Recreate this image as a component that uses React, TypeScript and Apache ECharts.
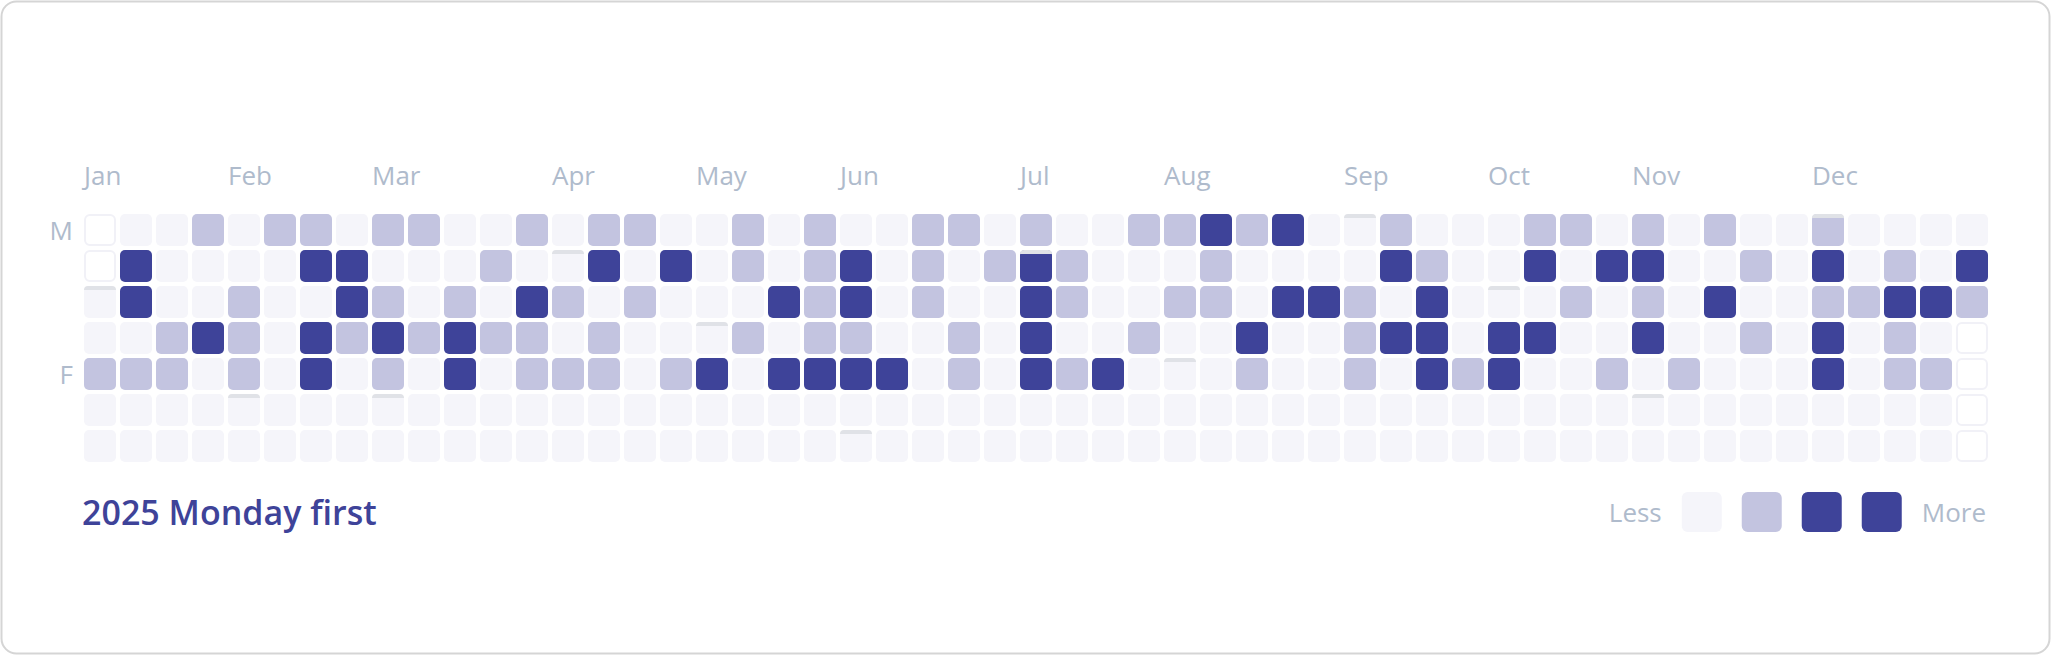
import React, { useEffect, useRef } from "react";
import * as echarts from "echarts";

// ---------- data ----------
const YEAR = 2025;
const monthNames = ["Jan", "Feb", "Mar", "Apr", "May", "Jun", "Jul", "Aug", "Sep", "Oct", "Nov", "Dec"];
const dayLabels = ["M", "", "", "", "F", "", ""];
const titleText = "2025 Monday first";
const legendText = ["Less", "More"];
const legendLevels = [0, 1, 2, 3];

// daily activity level (0..3) for each day of each month of 2025
const jan = [0, 0, 1, 0, 0, 0, 2, 2, 0, 1, 0, 0, 0, 0, 0, 1, 1, 0, 0, 1, 0, 0, 2, 0, 0, 0, 0, 0, 1, 1, 1];
const feb = [0, 0, 1, 0, 0, 0, 0, 0, 0, 1, 2, 0, 2, 2, 0, 0, 0, 2, 2, 1, 0, 0, 0, 1, 0, 1, 2, 1];
const mar = [0, 0, 1, 0, 0, 1, 0, 0, 0, 0, 0, 1, 2, 2, 0, 0, 0, 1, 0, 1, 0, 0, 0, 1, 0, 2, 1, 1, 0, 0, 0];
const apr = [0, 1, 0, 1, 0, 0, 1, 2, 0, 1, 1, 0, 0, 1, 0, 1, 0, 0, 0, 0, 0, 2, 0, 0, 1, 0, 0, 0, 0, 0];
const may = [0, 2, 0, 0, 1, 1, 0, 1, 0, 0, 0, 0, 0, 2, 0, 2, 0, 0, 1, 1, 1, 1, 2, 0, 0, 0, 2, 2, 1, 2, 0];
const jun = [0, 0, 0, 0, 0, 2, 0, 0, 1, 1, 1, 0, 0, 0, 0, 1, 0, 0, 1, 1, 0, 0, 0, 1, 0, 0, 0, 0, 0, 1];
const jul = [2, 2, 2, 2, 0, 0, 0, 1, 1, 0, 1, 0, 0, 0, 0, 0, 0, 2, 0, 0, 1, 0, 0, 1, 0, 0, 0, 1, 0, 1, 0];
const aug = [0, 0, 0, 2, 1, 1, 0, 0, 0, 0, 1, 0, 0, 2, 1, 0, 0, 2, 0, 2, 0, 0, 0, 0, 0, 0, 2, 0, 0, 0, 0];
const sep = [0, 0, 1, 1, 1, 0, 0, 1, 2, 0, 2, 0, 0, 0, 0, 1, 2, 2, 2, 0, 0, 0, 0, 0, 0, 1, 0, 0, 0, 0];
const oct = [0, 2, 2, 0, 0, 1, 2, 0, 2, 0, 0, 0, 1, 0, 1, 0, 0, 0, 0, 0, 2, 0, 0, 1, 0, 0, 1, 2, 1, 2, 0];
const nov = [0, 0, 0, 0, 0, 0, 1, 0, 0, 1, 0, 2, 0, 0, 0, 0, 0, 1, 0, 1, 0, 0, 0, 0, 0, 0, 0, 0, 0, 0];
const dec = [1, 2, 1, 2, 2, 0, 0, 0, 0, 1, 0, 0, 0, 0, 0, 1, 2, 1, 1, 0, 0, 0, 0, 2, 0, 1, 0, 0, 0, 2, 1];
const monthLevels = [jan, feb, mar, apr, may, jun, jul, aug, sep, oct, nov, dec];

// ---------- styles ----------
const FONT = "'Open Sans', 'Noto Sans', sans-serif";
const levelColors = ["#f5f5fa", "#c3c4e0", "#3e4399", "#3e4399"];
const labelColor = "#afbbcc";
const titleColor = "#3e4399";
const stripColor = "#e0e2e7";
const outsideStroke = "#f1f1f7";

// ---------- derived ----------
const DAY = 86400000;
const firstDay = new Date(Date.UTC(YEAR, 0, 1));
const firstDow = (firstDay.getUTCDay() + 6) % 7; // Monday = 0
const gridStart = firstDay.getTime() - firstDow * DAY;

function cellOf(t: number): [number, number] {
  const off = Math.round((t - gridStart) / DAY);
  return [Math.floor(off / 7), off % 7];
}

const dayData: number[][] = [];
const monthWeek: Record<number, string> = {};
monthLevels.forEach((arr, m) => {
  arr.forEach((lvl, i) => {
    const [w, r] = cellOf(Date.UTC(YEAR, m, i + 1));
    dayData.push([w, r, lvl, i + 1]);
  });
  monthWeek[cellOf(Date.UTC(YEAR, m, 1))[0]] = monthNames[m];
});

const lastCell = cellOf(Date.UTC(YEAR, 11, 31));
const WEEKS = lastCell[0] + 1;
const outsideData: number[][] = [];
for (let r = 0; r < firstDow; r++) outsideData.push([0, r]);
for (let r = lastCell[1] + 1; r < 7; r++) outsideData.push([lastCell[0], r]);

function cellRect(api: any) {
  const w = api.value(0);
  const r = api.value(1);
  const a = api.coord([w, r]);
  const b = api.coord([w + 1, r]);
  const bandH = api.size([0, 1])[1];
  const gap = 4;
  return {
    x: a[0] + gap / 2,
    y: a[1] - bandH / 2 + gap / 2,
    width: b[0] - a[0] - gap,
    height: bandH - gap,
  };
}

export default function App() {
  const ref = useRef<HTMLDivElement>(null);

  useEffect(() => {
    if (!ref.current) return;
    const chart = echarts.init(ref.current, undefined, { renderer: "svg" });
    chart.setOption({
      animation: false,
      backgroundColor: "#ffffff",
      textStyle: { fontFamily: FONT },
      title: {
        text: titleText,
        left: 82,
        top: 495,
        padding: 0,
        textStyle: { color: titleColor, fontSize: 34, fontWeight: 600, fontFamily: FONT, lineHeight: 34 },
      },
      grid: { left: 82, top: 212, width: WEEKS * 36, height: 7 * 36, containLabel: false },
      xAxis: {
        type: "value",
        position: "top",
        min: 0,
        max: WEEKS,
        interval: 1,
        axisLine: { show: false },
        axisTick: { show: false },
        splitLine: { show: false },
        axisLabel: {
          formatter: (v: number) => monthWeek[v] ?? "",
          align: "left",
          verticalAlign: "middle",
          padding: [0, 0, 0, 2],
          margin: 37,
          color: labelColor,
          fontSize: 26,
          fontFamily: FONT,
          showMinLabel: true,
          showMaxLabel: true,
        },
      },
      yAxis: {
        type: "category",
        data: dayLabels,
        inverse: true,
        axisLine: { show: false },
        axisTick: { show: false },
        splitLine: { show: false },
        axisLabel: { interval: 0, margin: 9, color: labelColor, fontSize: 26, fontFamily: FONT },
      },
      visualMap: {
        type: "piecewise",
        seriesIndex: 0,
        dimension: 2,
        orient: "horizontal",
        pieces: legendLevels.map((v, i) => ({ value: v, color: levelColors[i] })),
        itemWidth: 40,
        itemHeight: 40,
        itemGap: 20,
        itemSymbol:
          "path://M6,0H34A6,6,0,0,1,40,6V34A6,6,0,0,1,34,40H6A6,6,0,0,1,0,34V6A6,6,0,0,1,6,0Z",
        text: [legendText[1], legendText[0]],
        showLabel: false,
        selectedMode: false,
        right: 66,
        top: 492,
        padding: 0,
        textStyle: { color: labelColor, fontSize: 26, fontFamily: FONT },
      },
      graphic: [
        {
          type: "rect",
          silent: true,
          z: -10,
          shape: { x: 1.5, y: 1.5, width: 2048, height: 652, r: 15 },
          style: { fill: "none", stroke: "#d5d5d5", lineWidth: 2 },
        },
      ],
      series: [
        {
          type: "custom",
          data: dayData,
          encode: { x: 0, y: 1 },
          renderItem: (params: any, api: any) => {
            const c = cellRect(api);
            const children: any[] = [
              { type: "rect", shape: { ...c, r: 5 }, style: { fill: api.visual("color") } },
            ];
            if (api.value(3) === 1) {
              children.push({
                type: "rect",
                shape: { x: c.x, y: c.y, width: c.width, height: 4, r: [4, 4, 0, 0] },
                style: { fill: stripColor },
              });
            }
            return { type: "group", children };
          },
        },
        {
          type: "custom",
          silent: true,
          data: outsideData,
          encode: { x: 0, y: 1 },
          renderItem: (params: any, api: any) => {
            const c = cellRect(api);
            return {
              type: "rect",
              shape: { x: c.x + 1, y: c.y + 1, width: c.width - 2, height: c.height - 2, r: 5 },
              style: { fill: "#ffffff", stroke: outsideStroke, lineWidth: 2 },
            };
          },
        },
      ],
    });
    return () => chart.dispose();
  }, []);

  return (
    <div style={{ position: "fixed", left: 0, top: 0, width: 2052, height: 656, background: "#fff" }}>
      <div ref={ref} style={{ width: 2052, height: 656 }} />
    </div>
  );
}
